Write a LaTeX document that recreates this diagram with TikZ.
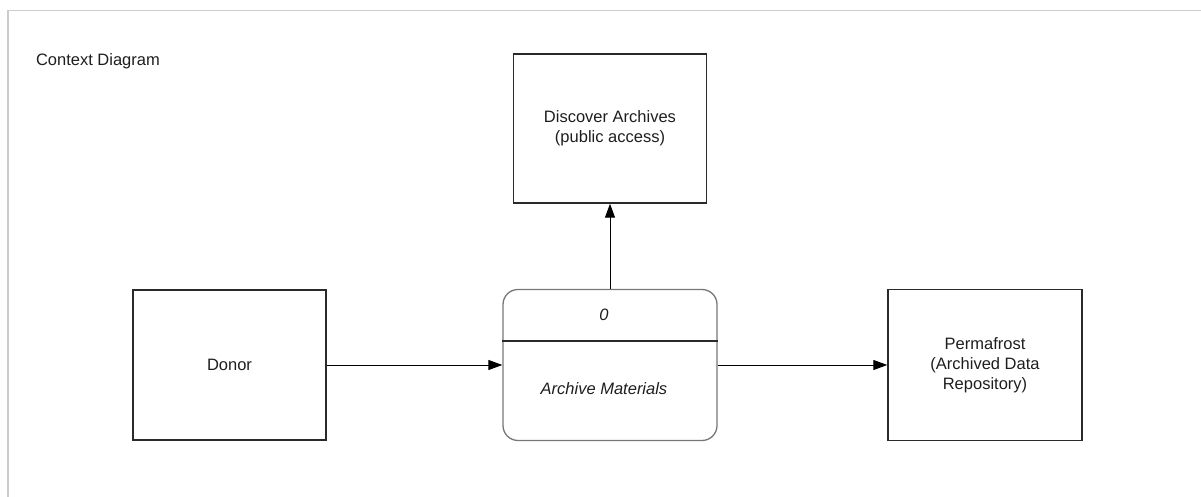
\documentclass[tikz,border=0pt]{standalone}
\usepackage{fontspec}
\setmainfont{Liberation Sans}
\usetikzlibrary{arrows.meta}
\definecolor{boxline}{HTML}{2A2A2A}
\definecolor{procline}{HTML}{777777}
\definecolor{frameline}{HTML}{CCCCCC}
\definecolor{txt}{HTML}{1E1E1E}
\begin{document}
\begin{tikzpicture}[x=1pt,y=-1pt,
  lbl/.style={text=txt,font=\fontsize{16.5}{20}\selectfont,align=center},
  entity/.style={lbl,draw=boxline,line width=1.4pt,inner sep=0pt},
  flow/.style={-{Triangle[length=14pt,width=10pt]},line width=1pt,black}]
\useasboundingbox (0,0) rectangle (1201,497);
\draw[frameline,line width=1.6pt] (8,497) -- (8,10.5) -- (1201,10.5);
\node[lbl,anchor=west] (title) at (32.5,61) {Context Diagram};
\node[entity,minimum width=193pt,minimum height=150pt] (donor) at (229.5,365) {Donor};
\node[entity,minimum width=193pt,minimum height=149pt] (disc) at (610,128.5) {Discover Archives\\(public access)};
\node[entity,minimum width=194pt,minimum height=151pt] (perma) at (985,365) {Permafrost\\(Archived Data\\Repository)};
\node[draw=procline,line width=1.3pt,rounded corners=15pt,minimum width=214pt,minimum height=151pt,inner sep=0pt] (proc) at (610,365) {};
\draw[boxline,line width=1.3pt] (proc.west |- 0,341) coordinate (divl) -- (proc.east |- 0,341) coordinate (divr);
\node[lbl,font=\fontsize{16.5}{20}\selectfont\itshape] (pid) at (604,315) {0};
\node[lbl,font=\fontsize{16.5}{20}\selectfont\itshape] (pname) at (604,389) {Archive Materials};
\draw[flow] (donor.east) -- (proc.west);
\draw[flow] (proc.east) -- (perma.west);
\draw[flow] (proc.north) -- (disc.south);
\end{tikzpicture}
\end{document}
